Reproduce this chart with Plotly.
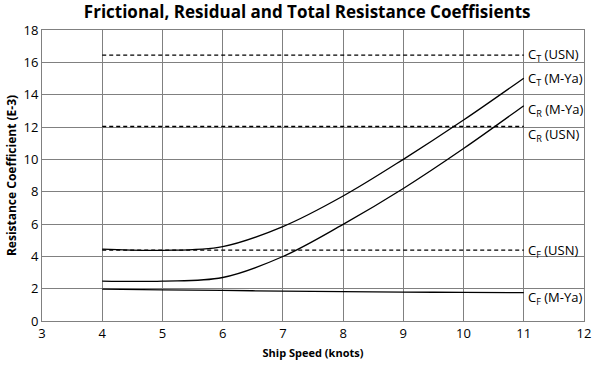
import plotly.graph_objects as go

speed = [4, 5, 6, 7, 8, 9, 10, 11]
ct_mya = [4.44, 4.37, 4.6, 5.84, 7.73, 10.0, 12.43, 15.02]
cr_mya = [2.47, 2.47, 2.69, 3.99, 5.98, 8.2, 10.67, 13.32]
cf_mya = [1.97, 1.93, 1.89, 1.85, 1.82, 1.79, 1.77, 1.75]
usn_speed = [4, 11]
ct_usn = [16.45, 16.45]
cr_usn = [12.03, 12.03]
cf_usn = [4.38, 4.38]

labels = ["C<sub>T</sub> (USN)", "C<sub>T</sub> (M-Ya)", "C<sub>R</sub> (M-Ya)",
          "C<sub>R</sub> (USN)", "C<sub>F</sub> (USN)", "C<sub>F</sub> (M-Ya)"]
label_y = [16.46, 14.96, 13.03, 11.49, 4.33, 1.40]

fig = go.Figure()
for ys in [ct_mya, cr_mya, cf_mya]:
    fig.add_trace(go.Scatter(x=speed, y=ys, mode="lines",
                             line=dict(color="black", width=1.3, shape="spline"),
                             showlegend=False))
for ys in [ct_usn, cr_usn, cf_usn]:
    fig.add_trace(go.Scatter(x=usn_speed, y=ys, mode="lines",
                             line=dict(color="black", width=1.3, dash="4px,3px"),
                             showlegend=False))

for t, yv in zip(labels, label_y):
    fig.add_annotation(x=11.04, y=yv, text=t, showarrow=False, xanchor="left",
                       yanchor="middle", font=dict(size=13, color="black",
                                                   family="Open Sans"))

fig.update_layout(
    width=600, height=366,
    margin=dict(l=42, r=9, t=30, b=44),
    paper_bgcolor="white", plot_bgcolor="white",
    font=dict(family="Open Sans", color="black", size=11),
    title=dict(text="<b>Frictional, Residual and Total Resistance Coeffisients</b>",
               x=0.512, xanchor="center", y=0.967, yanchor="middle",
               font=dict(size=17, color="black", family="Open Sans")),
    xaxis=dict(range=[3, 12], dtick=1, showgrid=True, gridcolor="#808080",
               gridwidth=1, zeroline=False, showline=True, linecolor="#808080",
               mirror=True, ticks="", tickfont=dict(size=13),
               title=dict(text="<b>Ship Speed (knots)</b>", font=dict(size=11),
                          standoff=8)),
    yaxis=dict(range=[0, 18], dtick=2, showgrid=True, gridcolor="#808080",
               gridwidth=1, zeroline=False, showline=True, linecolor="#808080",
               mirror=True, ticks="", tickfont=dict(size=13),
               title=dict(text="<b>Resistance Coefficient (E-3)</b>",
                          font=dict(size=12), standoff=4)),
)

fig.write_html("out.html", config={"displayModeBar": False},
               post_script="document.body.style.margin='0';")
